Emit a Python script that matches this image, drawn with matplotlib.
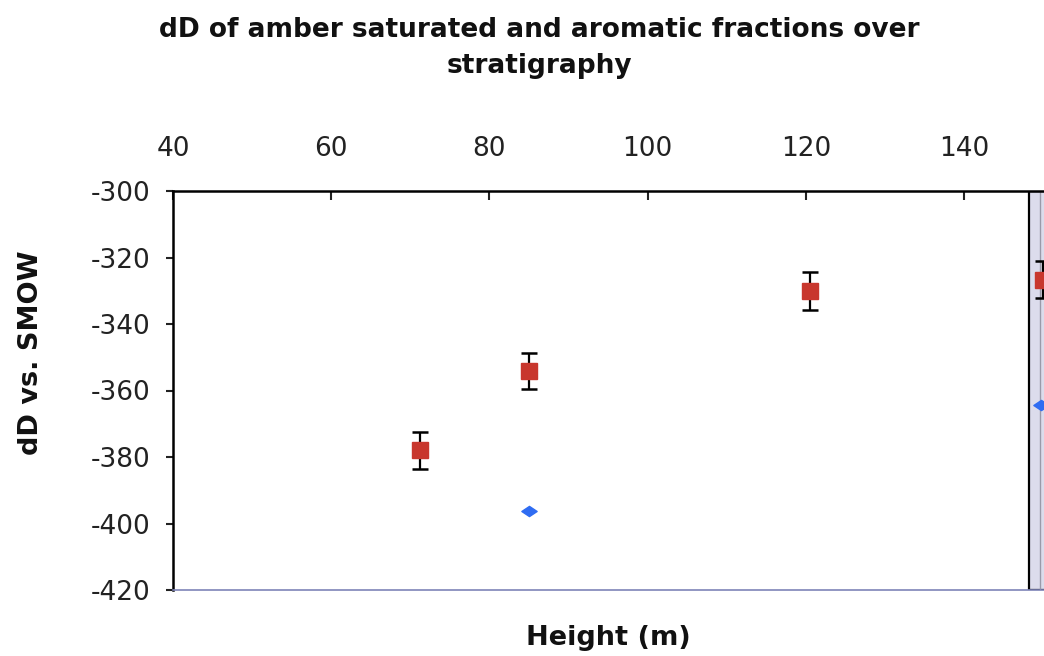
import matplotlib.pyplot as plt
from matplotlib.path import Path

plt.rcParams["axes.unicode_minus"] = False

# aromatic fraction (squares, with error bars) and saturated fraction (diamonds)
arom_height = [71.2, 85.0, 120.5, 150.0]
arom_dD = [-378.0, -354.0, -330.0, -326.7]
arom_err = [5.5, 5.4, 5.7, 5.6]

sat_height = [85.0, 149.7]
sat_dD = [-396.2, -364.4]

x_ticks = [40, 60, 80, 100, 120, 140]
y_ticks = [-300, -320, -340, -360, -380, -400, -420]

fig = plt.figure(figsize=(10.44, 6.56), dpi=100)
ax = fig.add_axes([173 / 1044, 1 - 590 / 656, 1 - 173 / 1044, (590 - 191) / 656])

ax.set_xlim(40, 40 + (1044 - 173) / 7.91)
ax.set_ylim(-420, -300)

# shaded band at the right end of the section
ax.axvspan(148.2, 152, facecolor="#dcdcec", edgecolor="black", lw=1.6, zorder=1)
ax.axvline(149.6, color="#9a9aaa", lw=1, zorder=1)

ax.errorbar(arom_height, arom_dD, yerr=arom_err, fmt="none", ecolor="black",
            elinewidth=1.6, capsize=6, capthick=1.8, zorder=3)
ax.plot(arom_height, arom_dD, "s", color="#c8372d", markersize=11.5, zorder=4)

# flattened diamond
diamond = Path([(0, 1), (1.5, 0), (0, -1), (-1.5, 0), (0, 1)],
               [Path.MOVETO, Path.LINETO, Path.LINETO, Path.LINETO, Path.CLOSEPOLY])
ax.plot(sat_height, sat_dD, linestyle="none", marker=diamond, color="#2f6cf2",
        markersize=11, zorder=4)

ax.xaxis.tick_top()
ax.set_xticks(x_ticks)
ax.set_yticks(y_ticks)
ax.tick_params(axis="x", direction="in", length=6.5, width=1.5, pad=21,
               labelsize=19, colors="#222222")
ax.tick_params(axis="y", direction="out", length=5, width=1.5, pad=11,
               labelsize=19, colors="#222222")

for side in ["top", "left"]:
    ax.spines[side].set_linewidth(1.8)
    ax.spines[side].set_color("black")
ax.spines["right"].set_visible(False)
ax.spines["bottom"].set_color("#7e84b8")
ax.spines["bottom"].set_linewidth(1.2)

fig.text(0.517, 0.927, "dD of amber saturated and aromatic fractions over\nstratigraphy",
         ha="center", va="center", fontsize=19, fontweight="bold",
         color="#111111", linespacing=1.5)
fig.text(0.583, 0.027, "Height (m)", ha="center", va="center",
         fontsize=19.5, fontweight="bold", color="#111111")
fig.text(0.030, 0.463, "dD vs. SMOW", ha="center", va="center", rotation=90,
         fontsize=19.5, fontweight="bold", color="#111111")

fig.savefig("out.png", dpi=100)
